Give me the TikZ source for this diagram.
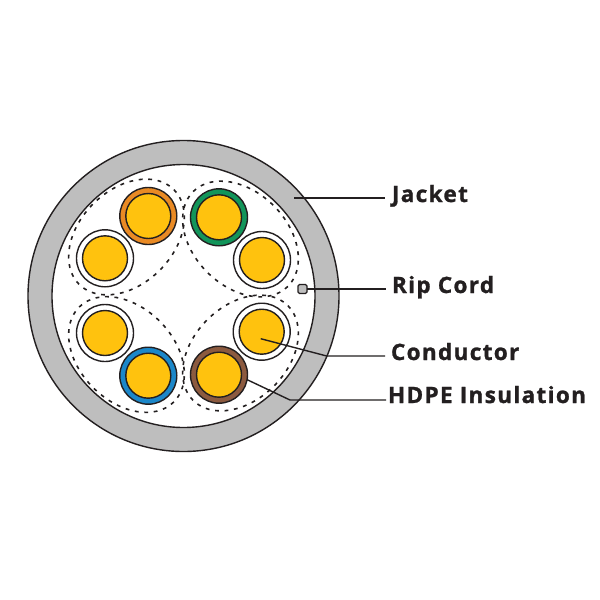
\documentclass[tikz,border=0pt]{standalone}
\usepackage{fontspec}
\setmainfont[LetterSpace=6.0,BoldFeatures={FakeBold=1.2}]{Open Sans}
\definecolor{jacketgray}{HTML}{BEBEBE}
\definecolor{ink}{HTML}{231F20}
\definecolor{cu}{HTML}{FFC20E}
\definecolor{iorange}{HTML}{E98A24}
\definecolor{igreen}{HTML}{12955A}
\definecolor{iblue}{HTML}{1B87C9}
\definecolor{ibrown}{HTML}{8C5A3F}
\tikzset{
  line/.style={draw=ink,line width=1.4pt},
  insul/.style={circle,line,minimum size=57pt,inner sep=0pt,outer sep=0pt,fill=white},
  wire/.style={circle,line,fill=cu,minimum size=45pt,inner sep=0pt,outer sep=0pt},
  pair/.style={draw=ink,line width=1.6pt,dash pattern=on 3.8pt off 5.7pt},
  lbl/.style={anchor=base west,font=\fontsize{22.5}{24}\selectfont\bfseries,text=ink,inner sep=0pt,outer sep=0pt},
  leader/.style={draw=ink,line width=1.4pt}
}
\begin{document}
\begin{tikzpicture}[x=1pt,y=-1pt]
\useasboundingbox (0,0) rectangle (600,600);
% cable
\fill[white] (0,0) rectangle (600,600);
\draw[line,fill=jacketgray] (183.5,296) circle (155.5);
\draw[line,fill=white] (183.5,296) circle (131.5);
% shielding around the pairs
\draw[pair,rotate around={45:(126.5,237)}] (126.5,237) ellipse (67 and 47);
\draw[pair,rotate around={-45:(240.5,239)}] (240.5,239) ellipse (67 and 47);
\draw[pair,rotate around={45:(240.5,353)}] (240.5,353) ellipse (67 and 47);
\draw[pair,rotate around={-45:(126.5,354.5)}] (126.5,354.5) ellipse (67 and 47);
% insulated conductors
\node[insul,fill=iorange] (orange) at (148.3,216) {};
\node[wire] at (orange) {};
\node[insul] (w1) at (105,258.3) {};
\node[wire] at (w1) {};
\node[insul,fill=igreen] (green) at (219,217.3) {};
\node[wire] at (green) {};
\node[insul] (w2) at (262,260) {};
\node[wire] at (w2) {};
\node[insul] (w3) at (261.7,331.7) {};
\node[wire] (c3) at (w3) {};
\node[insul,fill=ibrown] (brown) at (219,374.7) {};
\node[wire] at (brown) {};
\node[insul] (w4) at (105,333) {};
\node[wire] at (w4) {};
\node[insul,fill=iblue] (blue) at (148.3,375.7) {};
\node[wire] at (blue) {};
% rip cord
\node[draw=ink,line width=1.2pt,fill=jacketgray,rounded corners=1.5pt,minimum size=9pt,inner sep=0pt,outer sep=0pt] (rip) at (302.5,289) {};
% labels
\node[lbl] (ljacket) at (392,202) {Jacket};
\node[lbl] (lrip) at (392,293) {Rip Cord};
\node[lbl] (lcond) at (391,360) {Conductor};
\node[lbl] (lhdpe) at (388,403) {HDPE Insulation};
% leaders
\coordinate (jstart) at (294,198);
\coordinate (jend) at (385,198);
\coordinate (rend) at (386,289);
\coordinate (cbend) at (326.7,356);
\coordinate (cend) at (385,356);
\coordinate (cstart) at (260.7,338.7);
\coordinate (hbend) at (290,400);
\coordinate (hend) at (386,400);
\draw[leader] (jstart) -- (jend);
\draw[leader] (rip.east) -- (rend);
\draw[leader] (cstart) -- (cbend) -- (cend);
\draw[leader] (brown.-10) -- (hbend) -- (hend);
\end{tikzpicture}
\end{document}
